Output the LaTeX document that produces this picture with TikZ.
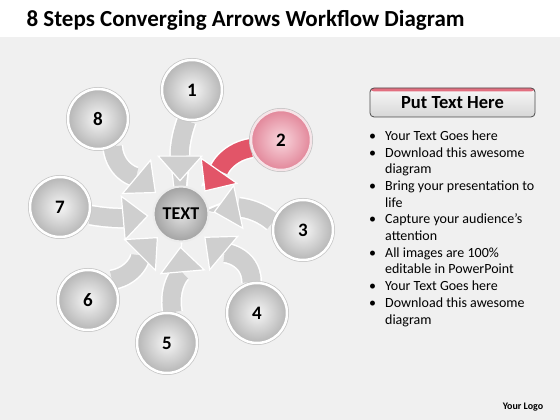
\documentclass[tikz,border=0pt]{standalone}
\usepackage{fontspec}
\setmainfont{Carlito}
\usetikzlibrary{arrows.meta}
\definecolor{bggray}{HTML}{F0F0F0}
\definecolor{ballin}{HTML}{F6F6F6}
\definecolor{ballout}{HTML}{B6B6B6}
\definecolor{redin}{HTML}{F9D6DD}
\definecolor{redout}{HTML}{E2879A}
\definecolor{redring}{HTML}{F6E4E8}
\definecolor{hubin}{HTML}{E2E2E2}
\definecolor{hubout}{HTML}{A2A2A2}
\definecolor{flowgray}{HTML}{CFCFCF}
\definecolor{flowred}{HTML}{E25568}
\definecolor{headred}{HTML}{E26F80}
\pgfdeclarelayer{back}
\pgfdeclarelayer{flows}
\pgfsetlayers{back,flows,main}
\tikzset{x=1pt, y=1pt,
ball/.style={ % Sets the properties for each numbered ball
circle, minimum size=60pt, inner sep=0pt,
draw=white, line width=2.5pt,
preaction={draw=gray!45, line width=4pt},
inner color=ballin, outer color=ballout,
font=\fontsize{19}{19}\selectfont\bfseries},
red ball/.style={ball, inner color=redin, outer color=redout, draw=redring},
hub/.style={ % Centre ball
circle, minimum size=55pt, inner sep=0pt,
draw=white!85!gray, line width=2pt,
inner color=hubin, outer color=hubout,
font=\fontsize{18}{18}\selectfont\bfseries},
flow/.style={ % Sets the properties for each converging arrow
draw=flowgray, line width=18pt, shorten >=4pt,
-{Triangle[width=46pt,length=26pt,line width=1.2pt,color=white,fill=flowgray]},
preaction={draw=white, line width=21pt, arrows=-, shorten >=30pt}},
red flow/.style={flow, draw=flowred,
-{Triangle[width=46pt,length=26pt,line width=1.2pt,color=white,fill=flowred]}},
head box/.style={rounded corners=4pt, minimum width=165pt, minimum height=29pt,
top color=gray!5, bottom color=gray!32, draw=gray!60!black, line width=0.8pt,
path picture={\fill[headred] ([yshift=-3.5pt]path picture bounding box.north west)
rectangle (path picture bounding box.north east);},
font=\fontsize{18.5}{18.5}\selectfont\bfseries}}

\begin{document}
\begin{tikzpicture}
\useasboundingbox (0,0) rectangle (560,420);
\begin{pgfonlayer}{back}
\fill[bggray] (0,0) rectangle (560,383);
\fill[white] (0,383) rectangle (560,420);
\end{pgfonlayer}

\node[anchor=base west, font=\fontsize{23}{23}\selectfont\bfseries] (title) at (23,393)
{8 Steps Converging Arrows Workflow Diagram};

% balls
\node[hub] (hub) at (181,206) {TEXT};
\node[ball] (s1) at (192,330) {1};
\node[red ball] (s2) at (281,280) {2};
\node[ball] (s3) at (303,190) {3};
\node[ball] (s4) at (257,107) {4};
\node[ball] (s5) at (167,77) {5};
\node[ball] (s6) at (88,120) {6};
\node[ball] (s7) at (60,213) {7};
\node[ball] (s8) at (98,301) {8};

% arrows into the centre
\begin{pgfonlayer}{flows}
\draw[flow] (s1.-100) to[out=-110, in=90] (hub.92);
\draw[red flow] (s2.195) to[out=190, in=55] (hub.42);
\draw[flow] (s3.165) to[out=140, in=12] (hub.2);
\draw[flow] (s4.100) to[out=90, in=-40] (hub.-45);
\draw[flow] (s5.80) to[out=100, in=-85] (hub.-92);
\draw[flow] (s6.40) to[out=10, in=-135] (hub.-135);
\draw[flow] (s7.-15) to[out=-10, in=185] (hub.183);
\draw[flow] (s8.-62) to[out=-85, in=140] (hub.140);
\end{pgfonlayer}

% text panel
\node[head box] (headbox) at (452.5,317.5) {Put Text Here};
\node[anchor=north west, inner sep=0pt, font=\fontsize{14}{16.7}\selectfont] (bullets) at (369,291.5)
{\begin{tabular}{@{}l@{\hspace{9pt}}l@{}}
\textbullet & Your Text Goes here\\
\textbullet & Download this awesome\\
 & diagram\\
\textbullet & Bring your presentation to\\
 & life\\
\textbullet & Capture your audience’s\\
 & attention\\
\textbullet & All images are 100\%\\
 & editable in PowerPoint\\
\textbullet & Your Text Goes here\\
\textbullet & Download this awesome\\
 & diagram
\end{tabular}};
\node[font=\fontsize{10}{10}\selectfont\bfseries] (logo) at (523,13) {Your Logo};
\end{tikzpicture}
\end{document}
